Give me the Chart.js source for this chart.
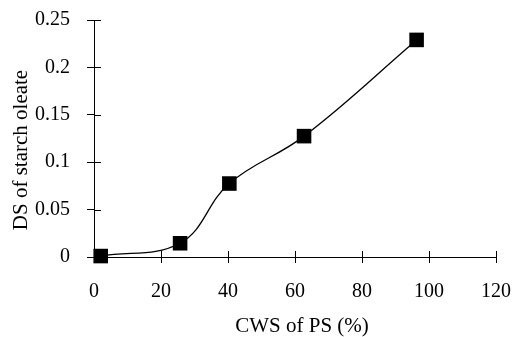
<!DOCTYPE html>
<html>
<head>
<meta charset="utf-8">
<script src="https://cdn.jsdelivr.net/npm/chart.js@4"></script>
<style>
html,body{margin:0;padding:0;background:#fff;}
#wrap{width:513px;height:337px;position:relative;}
</style>
</head>
<body>
<div id="wrap"><canvas id="c" width="513" height="337"></canvas></div>
<script>
const cwsValues = [2, 25.7, 40.4, 62.7, 96.3];
const dsValues = [0.001, 0.0145, 0.0775, 0.1275, 0.229];
const xTitle = "CWS of PS (%)";
const yTitle = "DS of starch oleate";

const FONT = "'Liberation Serif', 'Times New Roman', serif";

const innerTicks = {
  id: 'innerTicks',
  afterDraw(chart) {
    const ctx = chart.ctx;
    const xs = chart.scales.x, ys = chart.scales.y;
    ctx.save();
    ctx.strokeStyle = '#000';
    ctx.lineWidth = 1;
    ctx.beginPath();
    xs.ticks.forEach(t => {
      const px = Math.round(xs.getPixelForValue(t.value)) + 0.5;
      ctx.moveTo(px, ys.bottom); ctx.lineTo(px, ys.bottom - 6);
    });
    ys.ticks.forEach(t => {
      const py = Math.round(ys.getPixelForValue(t.value)) + 0.5;
      ctx.moveTo(xs.left, py); ctx.lineTo(xs.left + 7, py);
    });
    ctx.stroke();
    ctx.fillStyle = '#000';
    ctx.font = "21px " + FONT;
    ctx.textAlign = 'center';
    ctx.textBaseline = 'middle';
    ctx.fillText(xTitle, 302, 326);
    ctx.translate(21, 150);
    ctx.rotate(-Math.PI / 2);
    ctx.fillText(yTitle, 0, 0);
    ctx.restore();
  }
};

new Chart(document.getElementById('c'), {
  type: 'scatter',
  data: {
    datasets: [{
      data: cwsValues.map((x, i) => ({x: x, y: dsValues[i]})),
      showLine: true,
      borderColor: '#000',
      borderWidth: 1.3,
      backgroundColor: '#000',
      pointStyle: 'rect',
      pointRadius: 10.3,
      pointHoverRadius: 10.3,
      pointBorderWidth: 0,
      tension: 0.4,
      clip: false
    }]
  },
  options: {
    responsive: false,
    animation: false,
    events: [],
    layout: {padding: {top: 20, right: 17, left: 0, bottom: 0}},
    plugins: {legend: {display: false}, tooltip: {enabled: false}},
    scales: {
      x: {
        type: 'linear', min: 0, max: 120,
        ticks: {stepSize: 20, color: '#000', font: {family: FONT, size: 20}, padding: 17, maxRotation: 0},
        grid: {drawOnChartArea: false, tickLength: 6, color: '#000', tickColor: '#000'},
        border: {color: '#000', width: 1},
        afterFit(s) { s.height = 80; s.paddingLeft = 0; s.paddingRight = 0; }
      },
      y: {
        type: 'linear', min: 0, max: 0.25,
        ticks: {stepSize: 0.05, color: '#000', font: {family: FONT, size: 20}, padding: 17,
          callback: v => String(Math.round(v * 100) / 100)},
        grid: {drawOnChartArea: false, tickLength: 7, color: '#000', tickColor: '#000'},
        border: {color: '#000', width: 1},
        afterFit(s) { s.width = 94; s.paddingTop = 0; s.paddingBottom = 0; }
      }
    }
  },
  plugins: [innerTicks]
});
</script>
</body>
</html>
